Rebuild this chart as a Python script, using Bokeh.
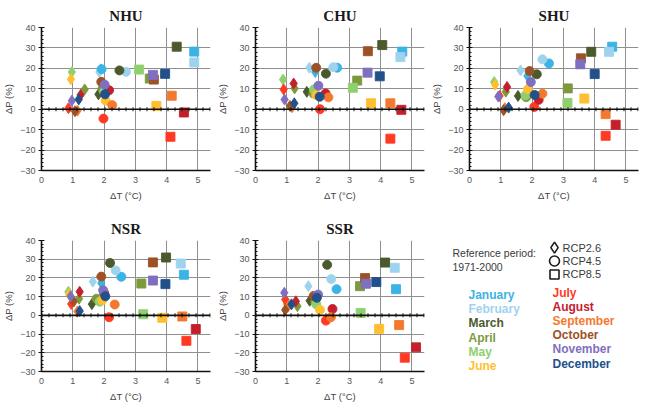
import numpy as np
from bokeh.plotting import figure
from bokeh.layouts import row, column
from bokeh.models import Range1d, Span, FixedTicker, ColumnDataSource, LabelSet
from bokeh.core.properties import value
from bokeh.embed import file_html
from bokeh.resources import INLINE

# ---------------- data ----------------
months = ["January", "February", "March", "April", "May", "June",
          "July", "August", "September", "October", "November", "December"]
month_colors = ["#3bb3e4", "#9ed3ee", "#4b5a2c", "#7c9a3c", "#8fd06e", "#ffbf2e",
                "#ff3a22", "#c4202c", "#f2792e", "#9c5226", "#7f6fc0", "#21508a"]
scenarios = ["RCP2.6", "RCP4.5", "RCP8.5"]
scenario_markers = ["diamond", "circle", "square"]
x_ticks = [0, 1, 2, 3, 4, 5]
y_ticks = [-30, -20, -10, 0, 10, 20, 30, 40]
ref_period = ["Reference period:", "1971-2000"]

# NHU
nhu_t26 = [1.90, 1.85, 1.82, 1.38, 0.97, 0.94, 0.86, 1.25, 1.15, 1.07, 0.97, 1.19]
nhu_p26 = [19.5, 18.2, 7.3, 9.7, 18.2, 14.7, 0.5, 7.0, -0.7, -1.0, 4.2, 4.8]
nhu_t45 = [1.92, 2.70, 2.49, 1.95, 2.00, 2.05, 1.98, 2.16, 2.26, 1.91, 2.02, 2.03]
nhu_p45 = [19.6, 18.3, 19.0, 10.0, 8.5, 4.2, -4.6, 9.3, 2.0, 13.4, 12.0, 7.3]
nhu_t85 = [4.88, 4.88, 4.32, 3.46, 3.12, 3.67, 4.12, 4.55, 4.16, 3.59, 3.56, 3.95]
nhu_p85 = [28.2, 22.9, 30.6, 15.0, 19.4, 1.6, -13.5, -1.6, 6.6, 14.5, 16.8, 17.3]
# CHU
chu_t26 = [1.91, 1.72, 1.64, 1.25, 0.88, 1.85, 0.90, 1.22, 1.17, 1.10, 0.93, 1.24]
chu_p26 = [18.2, 20.3, 8.5, 10.2, 14.5, 8.5, 9.7, 12.6, 1.0, 1.6, 4.7, 2.9]
chu_t45 = [2.61, 2.49, 2.25, 1.85, 1.87, 1.94, 2.06, 2.24, 2.33, 1.94, 2.01, 2.05]
chu_p45 = [20.3, 20.6, 17.4, 7.7, 9.7, 6.9, 0.0, 7.7, 5.8, 20.3, 11.5, 6.1]
chu_t85 = [4.69, 4.63, 4.05, 3.25, 3.11, 3.69, 4.31, 4.66, 4.31, 3.59, 3.58, 3.97]
chu_p85 = [28.2, 25.5, 31.4, 14.0, 10.5, 2.9, -14.4, -0.3, 2.9, 28.4, 17.9, 16.1]
# SHU
shu_t26 = [1.85, 1.63, 1.55, 1.16, 0.79, 0.82, 0.96, 1.20, 1.13, 1.09, 0.92, 1.25]
shu_p26 = [16.3, 19.0, 6.5, 8.6, 13.3, 12.0, 6.5, 10.9, 0.5, -0.5, 6.2, 0.8]
shu_t45 = [2.54, 2.33, 2.15, 1.81, 1.79, 1.87, 2.07, 2.21, 2.33, 1.92, 1.96, 2.08]
shu_p45 = [22.4, 24.4, 17.1, 5.9, 6.8, 9.8, 1.1, 4.6, 7.6, 18.7, 13.3, 7.0]
shu_t85 = [4.56, 4.46, 3.89, 3.14, 3.13, 3.67, 4.35, 4.67, 4.35, 3.56, 3.54, 4.00]
shu_p85 = [30.6, 28.1, 28.1, 10.2, 3.1, 5.2, -13.0, -7.6, -2.4, 24.9, 22.0, 17.2]
# NSR
nsr_t26 = [1.91, 1.64, 1.61, 1.20, 0.86, 0.88, 0.95, 1.22, 1.15, 1.03, 0.93, 1.22]
nsr_p26 = [17.2, 18.0, 6.0, 8.9, 12.6, 11.3, 6.1, 12.6, 2.1, 7.4, 10.2, 2.3]
nsr_t45 = [2.55, 2.37, 2.19, 1.76, 1.86, 1.94, 2.16, 2.00, 2.34, 1.91, 1.97, 2.04]
nsr_p45 = [20.6, 24.0, 28.0, 8.9, 7.3, 8.1, -1.0, 12.0, 5.8, 20.7, 13.4, 10.2]
nsr_t85 = [4.55, 4.45, 3.98, 3.19, 3.25, 3.86, 4.63, 4.93, 4.50, 3.56, 3.56, 3.96]
nsr_p85 = [21.7, 27.7, 30.9, 17.0, 0.6, -1.3, -13.6, -7.3, -0.6, 28.3, 18.6, 16.7]
# SSR
ssr_t26 = [1.96, 1.69, 1.73, 1.34, 1.02, 1.00, 0.95, 1.29, 1.05, 0.95, 0.92, 1.15]
ssr_p26 = [9.9, 15.6, 7.8, 4.9, 6.7, 5.9, 8.5, 7.5, 5.0, 2.9, 12.1, 5.9]
ssr_t45 = [2.59, 2.42, 2.29, 1.91, 1.94, 2.06, 2.25, 2.46, 2.41, 1.86, 2.00, 1.96]
ssr_p45 = [14.0, 19.4, 27.0, 7.2, 5.9, 2.9, -2.8, 3.4, -1.0, 10.4, 11.1, 9.4]
ssr_t85 = [4.49, 4.45, 4.14, 3.34, 3.36, 3.95, 4.77, 5.13, 4.59, 3.50, 3.53, 3.86]
ssr_p85 = [14.0, 25.4, 28.2, 15.6, 1.3, -7.2, -22.6, -17.1, -5.2, 19.9, 16.9, 17.8]

regions = [
    ("NHU", [nhu_t26, nhu_t45, nhu_t85], [nhu_p26, nhu_p45, nhu_p85]),
    ("CHU", [chu_t26, chu_t45, chu_t85], [chu_p26, chu_p45, chu_p85]),
    ("SHU", [shu_t26, shu_t45, shu_t85], [shu_p26, shu_p45, shu_p85]),
    ("NSR", [nsr_t26, nsr_t45, nsr_t85], [nsr_p26, nsr_p45, nsr_p85]),
    ("SSR", [ssr_t26, ssr_t45, ssr_t85], [ssr_p26, ssr_p45, ssr_p85]),
]

# ---------------- styling ----------------
CW = 214
ROW_H = [203, 201]
BORDER_TOP = [27, 37]
BORDER_BOTTOM = [32, 27]
TICK_FONT = "Liberation Sans"
marker_sizes = {"diamond": 11, "circle": 9, "square": 9}


def panel(name, tl, pl, r):
    p = figure(width=CW, height=ROW_H[r], x_range=Range1d(0, 5.4), y_range=Range1d(-30, 40),
               output_backend="svg", toolbar_location=None, title=name,
               min_border_left=30, min_border_right=4, min_border_top=BORDER_TOP[r],
               min_border_bottom=BORDER_BOTTOM[r])
    p.title.align = "center"
    p.title.text_font = "Liberation Serif"
    p.title.text_font_size = "15px"
    p.title.text_font_style = "bold"
    p.title.text_color = "#1a1a1a"
    p.title.standoff = 7
    p.outline_line_color = None
    p.background_fill_color = "white"

    p.xaxis.ticker = FixedTicker(ticks=x_ticks)
    p.yaxis.ticker = FixedTicker(ticks=y_ticks,
                                 minor_ticks=list(np.arange(-30, 40.1, 2)))
    p.xgrid.ticker = FixedTicker(ticks=x_ticks)
    p.ygrid.ticker = FixedTicker(ticks=y_ticks)
    p.grid.grid_line_color = "#8f8f8f"
    p.grid.grid_line_width = 1

    for ax in (p.xaxis[0], p.yaxis[0]):
        ax.axis_line_color = "#111111"
        ax.axis_line_width = 1.6
        ax.major_label_text_font = TICK_FONT
        ax.major_label_text_font_size = "9px"
        ax.major_label_text_color = "#555555"
        ax.axis_label_text_font = TICK_FONT
        ax.axis_label_text_font_size = "9.5px"
        ax.axis_label_text_font_style = "normal"
        ax.axis_label_text_color = "#444444"
    p.xaxis.axis_label = "\u0394T (\u00b0C)"
    p.yaxis.axis_label = "\u0394P (%)"
    p.xaxis.major_tick_in = 0
    p.xaxis.major_tick_out = 0
    p.xaxis.minor_tick_line_color = None
    p.xaxis.major_label_standoff = 6
    p.xaxis.axis_label_standoff = 4
    p.yaxis.major_tick_in = 3
    p.yaxis.major_tick_out = 3
    p.yaxis.minor_tick_in = 2
    p.yaxis.minor_tick_out = 0
    p.yaxis.major_tick_line_color = "#111111"
    p.yaxis.minor_tick_line_color = "#111111"
    p.yaxis.major_label_standoff = 3
    p.yaxis.axis_label_standoff = 3

    # zero line with small tick marks
    p.add_layout(Span(location=0, dimension="width", line_color="#111111", line_width=1.6))
    p.add_layout(Span(location=0, dimension="width", line_color="#111111", line_width=4,
                      line_dash="1 6"))

    for t, pv, mk in zip(tl, pl, scenario_markers):
        src = ColumnDataSource(dict(x=t, y=pv, c=month_colors))
        p.scatter("x", "y", source=src, marker=mk, size=marker_sizes[mk],
                  fill_color="c", line_color="c", line_width=1, line_alpha=0.9)
    return p


panels = [panel(n, t, pv, 0 if i < 3 else 1) for i, (n, t, pv) in enumerate(regions)]

# ---------------- legend panel ----------------
# the legend frame aligns with its neighbours' frames; layout units in a flipped y range
leg = figure(width=CW, height=ROW_H[1], x_range=Range1d(0, CW),
             y_range=Range1d(199, 33),
             output_backend="svg", toolbar_location=None, min_border=0,
             min_border_top=BORDER_TOP[1], min_border_bottom=BORDER_BOTTOM[1])
leg.axis.visible = False
leg.grid.visible = False
leg.outline_line_color = None

leg_src = ColumnDataSource(dict(x=[126, 126, 126], y=[42, 59, 76], m=scenario_markers,
                                s=[11, 10, 9]))
leg.scatter("x", "y", source=leg_src, marker="m", size="s", fill_color=None,
            line_color="#1a1a1a", line_width=1.6)

rp_src = ColumnDataSource(dict(x=[24, 24], y=[49, 66], t=ref_period))
leg.add_layout(LabelSet(x="x", y="y", text="t", source=rp_src, text_baseline="middle",
                        text_font=value(TICK_FONT), text_font_size="10.5px",
                        text_color="#3a3a3a"))
sc_src = ColumnDataSource(dict(x=[134, 134, 134], y=[42, 59, 76], t=scenarios))
leg.add_layout(LabelSet(x="x", y="y", text="t", source=sc_src, text_baseline="middle",
                        text_font=value(TICK_FONT), text_font_size="11px",
                        text_color="#3a3a3a"))

mo_src = ColumnDataSource(dict(x=[40] * 6 + [124] * 6,
                               y=[102, 120, 138, 156, 174, 192, 100, 117, 135, 153, 171, 189],
                               t=months, c=month_colors))
leg.add_layout(LabelSet(x="x", y="y", text="t", source=mo_src, text_color="c",
                        text_baseline="middle", text_font=value(TICK_FONT),
                        text_font_size="12px", text_font_style="bold"))

layout = column(row(panels[0], panels[1], panels[2]),
                row(panels[3], panels[4], leg))

open("out.html", "w").write(file_html(layout, INLINE))
